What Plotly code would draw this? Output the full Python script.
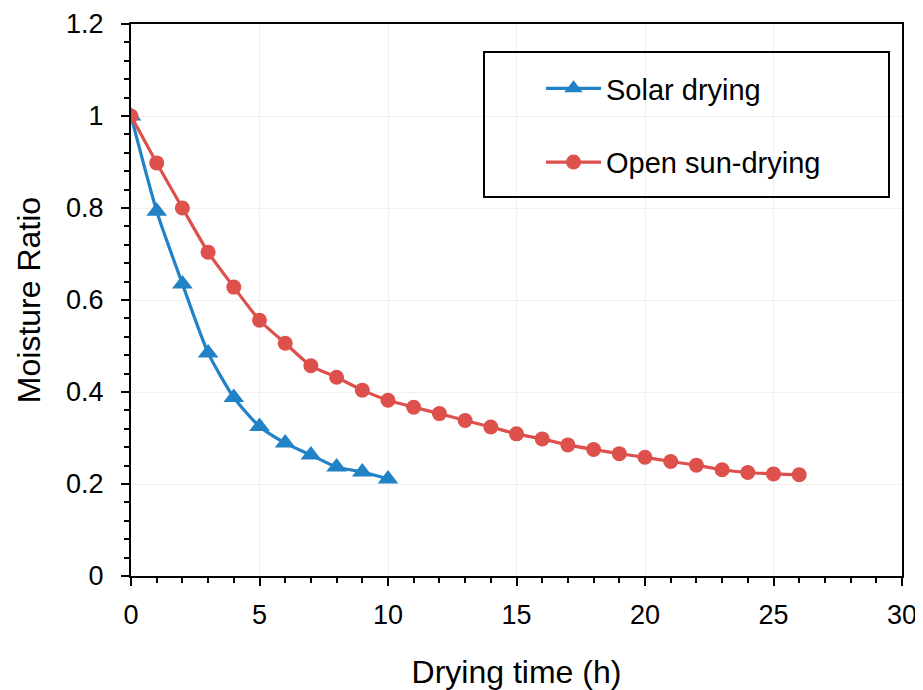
import plotly.graph_objects as go

time_solar = [0, 1, 2, 3, 4, 5, 6, 7, 8, 9, 10]
mr_solar = [1.0, 0.793, 0.635, 0.485, 0.388, 0.325, 0.289, 0.263, 0.237, 0.226, 0.211]

time_open = list(range(0, 27))
mr_open = [1.0, 0.898, 0.800, 0.704, 0.628, 0.556, 0.506, 0.457, 0.432, 0.404, 0.382,
           0.367, 0.353, 0.338, 0.324, 0.309, 0.298, 0.285, 0.275, 0.266, 0.258,
           0.249, 0.241, 0.231, 0.225, 0.222, 0.220]

BLUE = "#2182C6"
RED = "#DE504C"
FONT = "Liberation Sans, Arial, sans-serif"

fig = go.Figure()
fig.add_trace(go.Scatter(
    x=time_solar, y=mr_solar, name="Solar drying", mode="lines+markers",
    line=dict(color=BLUE, width=3.2, shape="spline", smoothing=0.6),
    marker=dict(symbol="triangle-up", size=18, color=BLUE),
    legendgroup="a",
))
fig.add_trace(go.Scatter(
    x=time_open, y=mr_open, name="Open sun-drying", mode="lines+markers",
    line=dict(color=RED, width=3.2, shape="spline", smoothing=0.6),
    marker=dict(symbol="circle", size=15, color=RED),
    legendgroup="b",
))

axis_common = dict(
    showline=True, linecolor="black", linewidth=2, mirror=True,
    ticks="outside", ticklen=8, tickwidth=2, tickcolor="black",
    showgrid=True, gridcolor="#F0F0F0", gridwidth=1,
    zeroline=False, automargin=False,
    tickfont=dict(family=FONT, size=27, color="black"),
    title_font=dict(family=FONT, size=32, color="black"),
)

fig.update_xaxes(
    range=[0, 30], dtick=5, tick0=0,
    minor=dict(ticks="outside", ticklen=5, tickwidth=2, tickcolor="black", dtick=1, showgrid=False),
    title_text="Drying time (h)", title_standoff=38, ticklabelstandoff=6,
    **axis_common,
)
fig.update_yaxes(
    range=[0, 1.2], dtick=0.2, tick0=0,
    minor=dict(ticks="outside", ticklen=5, tickwidth=2, tickcolor="black", dtick=0.04, showgrid=False),
    title_text="Moisture Ratio", title_standoff=16, ticklabelstandoff=12,
    **axis_common,
)

fig.add_shape(type="rect", xref="paper", yref="paper",
              x0=(484 - 131) / 771, x1=(889 - 131) / 771,
              y0=(576 - 197) / 552, y1=(576 - 52) / 552,
              line=dict(color="black", width=2), fillcolor="rgba(0,0,0,0)", layer="above")

fig.update_layout(
    width=915, height=682,
    margin=dict(l=123, r=21, t=16, b=114, autoexpand=False),
    plot_bgcolor="white", paper_bgcolor="white",
    font=dict(family=FONT, color="black"),
    legend=dict(
        x=(541 - 131) / 771, y=(576 - 63) / 552, xanchor="left", yanchor="top",
        bgcolor="rgba(0,0,0,0)", borderwidth=0,
        font=dict(family=FONT, size=29, color="black"),
        tracegroupgap=33, traceorder="grouped", itemwidth=55,
    ),
)

fig.write_html("out.html")
